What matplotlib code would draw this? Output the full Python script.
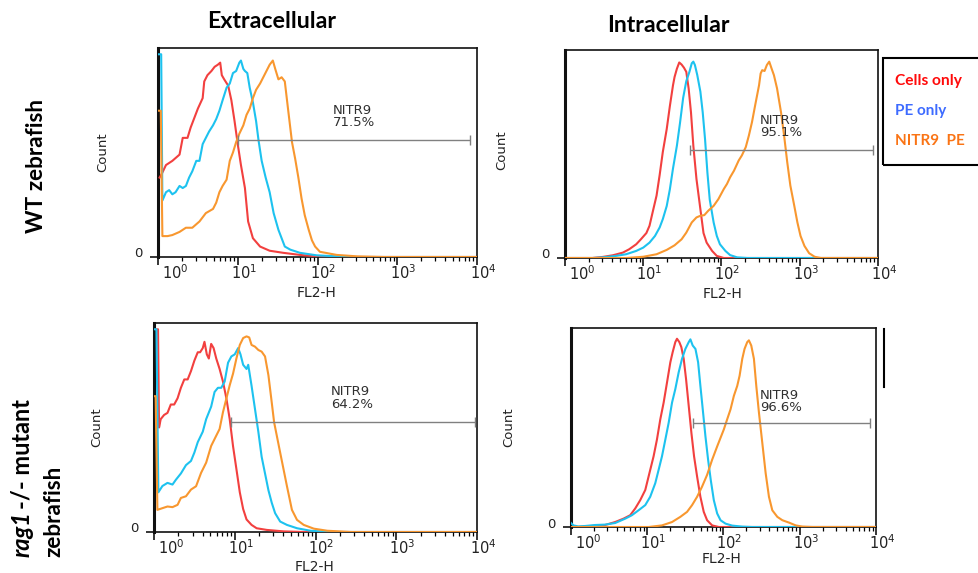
import numpy as np
import matplotlib
matplotlib.use("Agg")
import matplotlib.pyplot as plt
from matplotlib.lines import Line2D
from matplotlib.patches import Rectangle
from matplotlib.ticker import FixedLocator, NullFormatter

# ---------------- data (log10 FL2-H, count as % of axis height) ----------------
series_names = ["Cells only", "PE only", "NITR9  PE"]
decade_exponents = [0, 1, 2, 3, 4]
column_titles = ["Extracellular", "Intracellular"]

# WT zebrafish - extracellular
wt_ext_cells_log = [0.02, 0.05, 0.10, 0.18, 0.27, 0.31, 0.37, 0.41, 0.46, 0.50, 0.56, 0.58, 0.62, 0.67, 0.71, 0.75,
                    0.78, 0.80, 0.83, 0.88, 0.92, 0.96, 1.00, 1.04, 1.09, 1.13, 1.19, 1.28, 1.40, 1.57, 1.78, 1.99, 2.41, 4.0]
wt_ext_cells_cnt = [38, 40, 44, 46, 49, 57, 57, 62, 67, 71, 76, 84, 87, 89, 91, 92,
                    93, 87, 85, 82, 75, 65, 54, 44, 33, 17, 9, 5, 3, 2, 1, 0.3, 0, 0]
wt_ext_pe_log = [0.005, 0.04, 0.055, 0.10, 0.14, 0.18, 0.22, 0.27, 0.31, 0.35, 0.39, 0.43, 0.48, 0.52, 0.56, 0.60,
                 0.64, 0.69, 0.73, 0.77, 0.81, 0.86, 0.90, 0.94, 0.98, 1.02, 1.04, 1.07, 1.09, 1.12, 1.15, 1.19,
                 1.23, 1.26, 1.30, 1.35, 1.40, 1.45, 1.51, 1.55, 1.59, 1.66, 1.78, 1.99, 2.40, 4.0]
wt_ext_pe_cnt = [97, 97, 27, 31, 32, 30, 31, 34, 33, 34, 38, 41, 46, 46, 54, 57,
                 60, 63, 66, 70, 75, 81, 83, 88, 89, 93, 94, 90, 89, 88, 81, 74,
                 65, 56, 46, 38, 31, 21, 13, 9, 5, 3.5, 2, 0.8, 0, 0]
wt_ext_nitr9_log = [0.005, 0.035, 0.055, 0.12, 0.18, 0.27, 0.35, 0.43, 0.52, 0.60, 0.69, 0.73, 0.77, 0.81, 0.86, 0.90,
                    0.94, 0.98, 1.02, 1.07, 1.11, 1.15, 1.19, 1.23, 1.28, 1.32, 1.36, 1.40, 1.44, 1.47, 1.51, 1.55,
                    1.59, 1.63, 1.68, 1.72, 1.76, 1.80, 1.84, 1.89, 1.93, 1.97, 2.03, 2.24, 2.50, 2.83, 4.0]
wt_ext_nitr9_cnt = [70, 70, 10, 10, 10.5, 12, 14, 14, 17, 21, 23, 26, 31, 34, 37, 46,
                    50, 55, 59, 63, 68, 71, 76, 80, 83, 86, 89, 92, 94, 90, 85, 86,
                    84, 71, 55, 47, 38, 28, 20, 13, 8, 5, 2.5, 1, 0.3, 0, 0]

# WT zebrafish - intracellular
wt_int_cells_log = [0, 0.35, 0.48, 0.61, 0.74, 0.82, 0.91, 0.97, 1.04, 1.08, 1.12, 1.17, 1.21, 1.25, 1.30, 1.34, 1.38,
                    1.40, 1.43, 1.46, 1.49, 1.52, 1.55, 1.58, 1.61, 1.64, 1.68, 1.73, 1.77, 1.81, 1.88, 1.94, 2.03, 4.0]
wt_int_cells_cnt = [0, 0, 0.5, 1.3, 2.6, 4.2, 6.6, 9, 12, 15.5, 22, 30, 40, 51, 62, 73, 83,
                    87, 91, 94, 93, 91.5, 89.5, 81.5, 70, 54, 38, 23.5, 12, 7.4, 3.4, 1, 0, 0]
wt_int_pe_log = [0, 0.35, 0.48, 0.65, 0.78, 0.91, 1.00, 1.08, 1.15, 1.21, 1.25, 1.30, 1.34, 1.38, 1.43, 1.47, 1.51, 1.55,
                 1.59, 1.62, 1.64, 1.66, 1.69, 1.73, 1.76, 1.79, 1.82, 1.85, 1.90, 1.94, 1.98, 2.05, 2.11, 2.20, 2.33, 4.0]
wt_int_pe_cnt = [0, 0, 0.3, 1, 1.8, 3.4, 5, 7.4, 10.6, 14.7, 18.7, 25, 33, 43, 54, 65, 77, 85,
                 89.5, 93.6, 94.4, 92.8, 88, 80, 70, 57, 41, 28, 17, 10.6, 6.6, 3.4, 1.4, 0.3, 0, 0]
wt_int_nitr9_log = [0, 0.78, 1.00, 1.17, 1.30, 1.40, 1.49, 1.55, 1.62, 1.68, 1.73, 1.78, 1.83, 1.90, 1.96, 2.03,
                    2.07, 2.11, 2.16, 2.22, 2.26, 2.31, 2.35, 2.39, 2.43, 2.48, 2.50, 2.52, 2.55, 2.58, 2.61, 2.64,
                    2.67, 2.71, 2.76, 2.80, 2.84, 2.88, 2.93, 2.97, 3.01, 3.06, 3.12, 3.19, 3.27, 4.0]
wt_int_nitr9_cnt = [0, 0, 0.6, 1.8, 3.9, 6.1, 9, 12.2, 17.1, 19.5, 20.3, 20.6, 22.7, 25.1, 28.3, 33.2,
                    35.6, 38.8, 42, 46.9, 49.3, 53.3, 58.9, 65.4, 73.4, 83.1, 88.7, 90.3, 89.9, 92.8, 94.4, 91.1,
                    87.9, 81.5, 70.2, 58.9, 46.1, 34.8, 25.1, 17.1, 10.6, 5.8, 2.3, 0.6, 0, 0]

# rag1-/- mutant zebrafish - extracellular
rag_ext_cells_log = [0.03, 0.05, 0.0625, 0.083, 0.125, 0.167, 0.208, 0.25, 0.292, 0.333, 0.375, 0.417, 0.458, 0.5,
                     0.542, 0.571, 0.604, 0.625, 0.654, 0.679, 0.708, 0.738, 0.771, 0.8125, 0.854, 0.896, 0.9375,
                     0.979, 1.021, 1.0625, 1.104, 1.146, 1.208, 1.271, 1.396, 1.604, 1.854, 4.0]
rag_ext_cells_cnt = [97, 97, 50, 54, 56, 57, 61, 61, 64, 69, 73, 73, 77, 82,
                     86, 86, 88, 91, 85, 83, 90, 88, 83, 78, 72, 64, 54,
                     41, 30, 19, 11, 6, 3.4, 1.8, 1, 0.3, 0, 0]
rag_ext_pe_log = [0.0, 0.03, 0.054, 0.104, 0.167, 0.229, 0.271, 0.333, 0.396, 0.458, 0.5, 0.542, 0.604, 0.646,
                  0.708, 0.75, 0.792, 0.833, 0.875, 0.917, 0.958, 1.0, 1.042, 1.071, 1.104, 1.146, 1.167, 1.208,
                  1.25, 1.292, 1.333, 1.375, 1.417, 1.458, 1.5, 1.5625, 1.646, 1.771, 1.9375, 2.1875, 4.0]
rag_ext_pe_cnt = [97, 97, 19, 22, 23.5, 22.7, 25, 28, 32, 34, 38, 43, 48, 54,
                  60, 67, 69, 69, 72, 81, 84, 85, 88, 85, 80, 78, 80, 70,
                  59, 48, 36, 28, 20, 14, 9, 5, 3.4, 1.8, 0.6, 0, 0]
rag_ext_nitr9_log = [0.0, 0.02, 0.042, 0.104, 0.167, 0.229, 0.292, 0.333, 0.396, 0.458, 0.521, 0.583, 0.646, 0.708,
                     0.771, 0.8125, 0.854, 0.896, 0.9375, 0.979, 1.021, 1.0625, 1.104, 1.146, 1.179, 1.208, 1.25,
                     1.292, 1.333, 1.375, 1.417, 1.458, 1.4875, 1.5625, 1.646, 1.708, 1.771, 1.854, 1.979, 2.146,
                     2.4375, 4.0]
rag_ext_nitr9_cnt = [65, 65, 10.6, 11.4, 12.2, 11.9, 13, 16.3, 17.1, 20.3, 21.9, 28.3, 33.2, 41.2,
                     46.1, 49.3, 57.3, 63.8, 70.2, 75.8, 83.1, 89.5, 92.8, 93.6, 93.1, 89.5, 88.7,
                     87.1, 86.3, 84, 75, 62, 52.5, 38, 22, 10.6, 5.8, 3.4, 1.6, 0.6,
                     0, 0]

# rag1-/- mutant zebrafish - intracellular
rag_int_cells_log = [0, 0.096, 0.272, 0.447, 0.579, 0.689, 0.776, 0.842, 0.908, 0.974, 1.039, 1.083, 1.127, 1.171,
                     1.215, 1.259, 1.303, 1.333, 1.368, 1.39, 1.421, 1.447, 1.478, 1.509, 1.544, 1.579, 1.614,
                     1.654, 1.697, 1.741, 1.785, 1.851, 1.939, 4.0]
rag_int_cells_cnt = [0, 0, 0.5, 1, 2.5, 4.2, 5.9, 9.3, 13.5, 18.6, 28.7, 35.5, 43.9, 54.1,
                     62.5, 72.6, 82.8, 87.8, 92.9, 94.6, 92.9, 90.4, 84.5, 74.3, 60.8, 47.3, 35.5,
                     25.3, 15.2, 7.6, 3.4, 0.8, 0, 0]
rag_int_pe_log = [0, 0.031, 0.096, 0.184, 0.316, 0.447, 0.579, 0.711, 0.798, 0.886, 0.974, 1.039, 1.105, 1.149,
                  1.193, 1.237, 1.281, 1.325, 1.368, 1.412, 1.456, 1.5, 1.544, 1.566, 1.596, 1.632, 1.667, 1.697,
                  1.728, 1.763, 1.798, 1.833, 1.873, 1.917, 1.961, 2.026, 2.114, 2.246, 2.377, 4.0]
rag_int_pe_cnt = [2, 0.8, 0.3, 0.5, 1, 1.2, 2, 4.2, 5.9, 8.4, 11, 15.2, 22, 28.7,
                  35.5, 43.9, 52.4, 62.5, 69.3, 77.7, 84.5, 89.5, 92.9, 94.3, 91.2, 89.5, 82.8, 70.9,
                  59.1, 45.6, 33.8, 23.6, 13.5, 6.8, 3.4, 1.7, 0.7, 0.2, 0, 0]
rag_int_nitr9_log = [0, 1.018, 1.193, 1.325, 1.434, 1.522, 1.588, 1.654, 1.719, 1.785, 1.851, 1.917, 1.961, 2.004,
                     2.048, 2.092, 2.136, 2.18, 2.211, 2.246, 2.276, 2.311, 2.333, 2.364, 2.399, 2.43, 2.465,
                     2.509, 2.553, 2.596, 2.64, 2.706, 2.772, 2.86, 2.947, 3.035, 3.167, 4.0]
rag_int_nitr9_cnt = [0, 0, 0.8, 2.5, 5.1, 7.6, 11, 15.2, 20.3, 26.2, 33.8, 40.5, 44.8, 49,
                     54.1, 59.1, 65.9, 70.9, 76, 84.5, 89.5, 92.9, 93.8, 91.2, 84.5, 70.9, 57.4,
                     42.2, 27, 15.2, 8.4, 5.1, 3.4, 2.2, 0.8, 0.2, 0, 0]

# NITR9 gates: start/end (log10 FL2-H), level (% axis height), percentage label
gate_start = [1.0, 1.6, 0.958, 1.596]
gate_end = [3.91, 3.93, 3.97, 3.92]
gate_level = [56, 52, 52.5, 52.4]
gate_pct = ["71.5%", "95.1%", "64.2%", "96.6%"]

# ---------------- styling ----------------
RED = "#F2403F"
CYAN = "#1DC2EF"
ORANGE = "#F8972F"
LEG_COLORS = ["#FF0A0A", "#3D6BFF", "#FA7415"]
TXT_FONT = ["Lato", "DejaVu Sans"]

W, H = 979, 573
fig = plt.figure(figsize=(W / 100, H / 100), dpi=100)
plt.rcParams["mathtext.fontset"] = "dejavusans"


def fx(px):
    return px / W


def fy(py):
    return 1 - py / H


panels = [
    dict(box=(158, 48, 477, 257),
         data=[(wt_ext_cells_log, wt_ext_cells_cnt), (wt_ext_pe_log, wt_ext_pe_cnt), (wt_ext_nitr9_log, wt_ext_nitr9_cnt)],
         count=(-0.172, 0.50), fl2=(0.498, -0.172), gtxt=(0.549, 0.672)),
    dict(box=(565, 50, 878, 258),
         data=[(wt_int_cells_log, wt_int_cells_cnt), (wt_int_pe_log, wt_int_pe_cnt), (wt_int_nitr9_log, wt_int_nitr9_cnt)],
         count=(-0.201, 0.519), fl2=(0.502, -0.173), gtxt=(0.623, 0.632)),
    dict(box=(154, 323, 477, 532),
         data=[(rag_ext_cells_log, rag_ext_cells_cnt), (rag_ext_pe_log, rag_ext_pe_cnt), (rag_ext_nitr9_log, rag_ext_nitr9_cnt)],
         count=(-0.176, 0.502), fl2=(0.498, -0.167), gtxt=(0.548, 0.641)),
    dict(box=(571, 328, 876, 527),
         data=[(rag_int_cells_log, rag_int_cells_cnt), (rag_int_pe_log, rag_int_pe_cnt), (rag_int_nitr9_log, rag_int_nitr9_cnt)],
         count=(-0.203, 0.50), fl2=(0.495, -0.161), gtxt=(0.62, 0.631)),
]

for i, p in enumerate(panels):
    x0, y0, x1, y1 = p["box"]
    ax = fig.add_axes([fx(x0), fy(y1), (x1 - x0) / W, (y1 - y0) / H])
    ax.set_xscale("log")
    ax.set_xlim(10 ** decade_exponents[0], 10 ** decade_exponents[-1])
    ax.set_ylim(0, 100)
    for (lg, cnt), col in zip(p["data"], [RED, CYAN, ORANGE]):
        ax.plot(np.power(10.0, lg), cnt, color=col, lw=1.5, zorder=3, solid_joinstyle="round")
    # gate
    g0, g1, gl = 10 ** gate_start[i], 10 ** gate_end[i], gate_level[i]
    ax.hlines(gl, g0, g1, color="#808080", lw=1.0, zorder=4)
    ax.vlines([g0, g1], gl - 2.4, gl + 2.4, color="#808080", lw=1.0, zorder=4)
    ax.text(p["gtxt"][0], p["gtxt"][1], "NITR9\n" + gate_pct[i], transform=ax.transAxes,
            fontsize=9.5, color="#303030", ha="left", va="center", linespacing=0.95,
            family="DejaVu Sans")
    # axes styling
    for s in ax.spines.values():
        s.set_linewidth(1.2)
        s.set_color("#111111")
    ax.spines["left"].set_linewidth(2.2)
    ax.xaxis.set_major_locator(FixedLocator([10.0 ** k for k in decade_exponents]))
    ax.xaxis.set_minor_locator(FixedLocator([m * 10.0 ** k for k in decade_exponents[:-1] for m in range(2, 10)]))
    ax.xaxis.set_minor_formatter(NullFormatter())
    ax.tick_params(axis="x", which="major", direction="out", length=5.5, width=1.1, labelbottom=False)
    ax.tick_params(axis="x", which="minor", direction="out", length=3, width=0.9)
    ax.set_yticks([0])
    ax.tick_params(axis="y", direction="out", length=6, width=1.1, labelleft=False)
    for k, e in enumerate(decade_exponents):
        dx = 17 if k == 0 else 6
        ax.annotate(r"$10^{%d}$" % e, xy=(10.0 ** e, 0), xycoords=("data", "axes fraction"),
                    xytext=(dx, -6), textcoords="offset pixels", ha="center", va="top",
                    fontsize=10.5, annotation_clip=False, color="#222222")
    ax.annotate("0", xy=(0, 0), xycoords="axes fraction", xytext=(-15, 3), textcoords="offset pixels",
                ha="right", va="center", fontsize=9.5, color="#222222", annotation_clip=False)
    ax.text(p["count"][0], p["count"][1], "Count", transform=ax.transAxes, rotation=90,
            ha="center", va="center", fontsize=9.5, family=["Liberation Sans Narrow", "DejaVu Sans"],
            color="#222222")
    ax.text(p["fl2"][0], p["fl2"][1], "FL2-H", transform=ax.transAxes, ha="center", va="center",
            fontsize=10, color="#222222")

renderer = fig.canvas.get_renderer()


def fit(t, target_px, vertical=False):
    bb = t.get_window_extent(renderer)
    cur = bb.height if vertical else bb.width
    t.set_fontsize(t.get_fontsize() * target_px / cur)


# column titles
t = fig.text(fx(272), fy(22), column_titles[0], ha="center", va="center", fontsize=16,
             fontweight="bold", family=TXT_FONT)
fit(t, 129)
t = fig.text(fx(668), fy(25), column_titles[1], ha="center", va="center", fontsize=16,
             fontweight="bold", family=TXT_FONT)
fit(t, 123)

# row labels
t = fig.text(fx(43), fy(233), "WT zebrafish", rotation=90, rotation_mode="anchor", ha="left",
             va="baseline", fontsize=16, fontweight="bold", family=TXT_FONT)
fit(t, 135, vertical=True)
fs_row = t.get_fontsize()

fig.text(fx(60), fy(557), "zebrafish", rotation=90, rotation_mode="anchor", ha="left", va="baseline",
         fontsize=fs_row, fontweight="bold", family=TXT_FONT)
t1 = fig.text(fx(30), fy(557), "rag1", rotation=90, rotation_mode="anchor", ha="left", va="baseline",
              fontsize=fs_row, fontweight="bold", fontstyle="italic", family=TXT_FONT)
t2 = fig.text(fx(30), fy(557), "-/- mutant", rotation=90, rotation_mode="anchor", ha="left",
              va="baseline", fontsize=fs_row, fontweight="bold", family=TXT_FONT)
tot = t1.get_window_extent(renderer).height + t2.get_window_extent(renderer).height
scale = 155 / tot
t1.set_fontsize(fs_row * scale)
t2.set_fontsize(fs_row * scale)
h1 = t1.get_window_extent(renderer).height
t2.set_position((fx(30), fy(557) + (h1 + 2) / H))

# legend box
fig.add_artist(Rectangle((fx(883), fy(165)), 130 / W, (165 - 58) / H, transform=fig.transFigure,
                         fill=False, lw=1.5, ec="black", clip_on=False))
leg_y = [81, 111, 141]
leg_w = [66, 51, 70]
for name, col, yy, ww in zip(series_names, LEG_COLORS, leg_y, leg_w):
    t = fig.text(fx(895), fy(yy), name, color=col, ha="left", va="center", fontsize=12,
                 fontweight="bold", family=TXT_FONT)
    fit(t, ww)

# remnant of legend frame beside lower-right panel
fig.add_artist(Line2D([fx(884), fx(884)], [fy(329), fy(387)], transform=fig.transFigure,
                      color="black", lw=1.5))

fig.savefig("out.png", dpi=100)
